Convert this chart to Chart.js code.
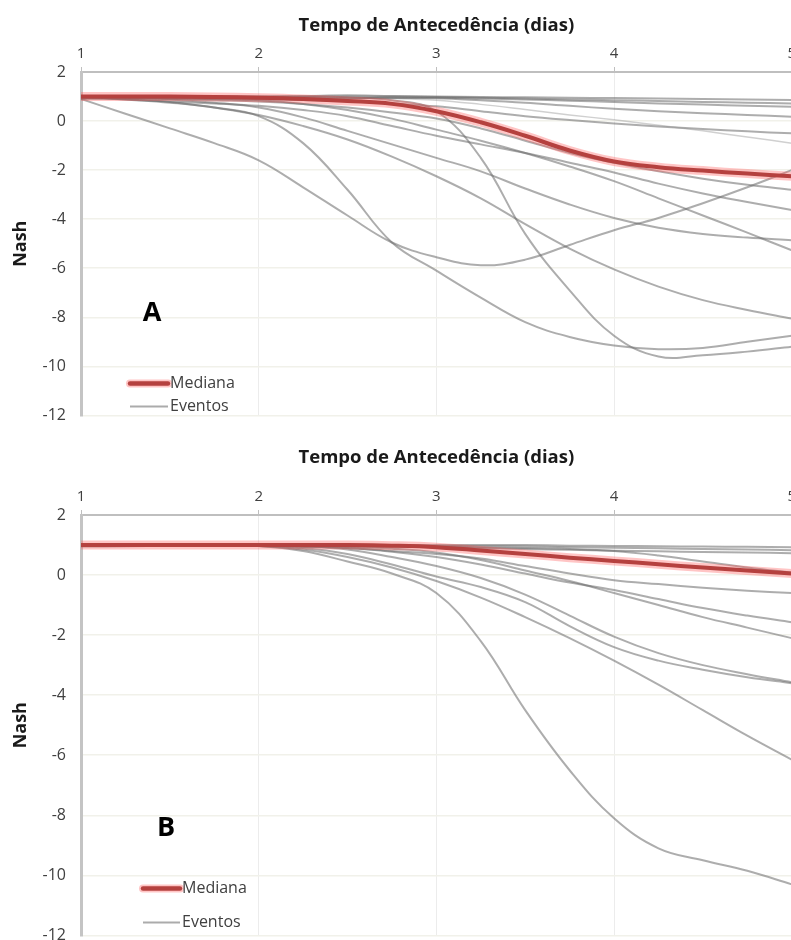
<!DOCTYPE html>
<html>
<head>
<meta charset="utf-8">
<script src="https://cdn.jsdelivr.net/npm/chart.js@4.4.0/dist/chart.umd.min.js"></script>
<style>
  html, body { margin: 0; padding: 0; background: #fff; overflow: hidden; width: 791px; height: 940px; }
  #wrapA { position: absolute; left: 0; top: 0; width: 800px; height: 440px; }
  #wrapB { position: absolute; left: 0; top: 430px; width: 800px; height: 530px; }
</style>
</head>
<body>
<div id="wrapA"><canvas id="chartA" width="800" height="440"></canvas></div>
<div id="wrapB"><canvas id="chartB" width="800" height="530"></canvas></div>
<script>
// lead time (days)
const dias = [1, 1.25, 1.5, 1.75, 2, 2.25, 2.5, 2.75, 3, 3.25, 3.5, 3.75, 4, 4.25, 4.5, 4.75, 5];
const yTicks = [2, 0, -2, -4, -6, -8, -10, -12];

// panel A
const medianaA = [1.0, 1.0, 1.0, 0.98, 0.95, 0.9, 0.82, 0.7, 0.4, -0.05, -0.6, -1.2, -1.65, -1.88, -2.02, -2.14, -2.25];
const evA1 = [1.0, 1.0, 1.0, 1.0, 1.0, 1.02, 1.05, 1.02, 1.0, 0.98, 0.97, 0.95, 0.94, 0.92, 0.9, 0.88, 0.86];
const evA2 = [0.95, 0.97, 0.98, 0.98, 0.97, 0.98, 1.0, 1.0, 0.98, 0.95, 0.92, 0.88, 0.85, 0.82, 0.78, 0.75, 0.72];
const evA3 = [0.9, 0.92, 0.93, 0.93, 0.92, 0.92, 0.93, 0.95, 0.95, 0.92, 0.88, 0.83, 0.78, 0.72, 0.67, 0.62, 0.58];
const evA4 = [1.0, 0.98, 0.97, 0.95, 0.93, 0.92, 0.93, 0.95, 0.93, 0.85, 0.75, 0.62, 0.5, 0.4, 0.32, 0.25, 0.18];
const evA5 = [1.0, 0.98, 0.97, 0.96, 0.95, 0.95, 0.95, 0.92, 0.85, 0.68, 0.47, 0.25, 0.05, -0.17, -0.4, -0.65, -0.9];
const evA6 = [0.95, 0.93, 0.92, 0.9, 0.88, 0.86, 0.82, 0.72, 0.6, 0.4, 0.2, 0.04, -0.1, -0.22, -0.32, -0.42, -0.5];
const evA7 = [1.0, 0.95, 0.9, 0.85, 0.8, 0.7, 0.55, 0.35, 0.1, -0.3, -0.8, -1.3, -1.7, -2.05, -2.35, -2.6, -2.8];
const evA8 = [0.95, 0.88, 0.8, 0.72, 0.62, 0.45, 0.2, -0.2, -0.6, -0.95, -1.3, -1.7, -2.1, -2.55, -2.95, -3.3, -3.63];
const evA9 = [1.0, 0.98, 0.95, 0.9, 0.85, 0.7, 0.45, 0.1, -0.35, -0.8, -1.3, -1.85, -2.45, -3.15, -3.85, -4.55, -5.27];
const evA10 = [1.0, 0.95, 0.88, 0.75, 0.55, 0.15, -0.4, -0.95, -1.5, -2.05, -2.75, -3.4, -3.95, -4.35, -4.6, -4.75, -4.86];
const evA11 = [1.0, 0.9, 0.78, 0.55, 0.25, -0.2, -0.75, -1.45, -2.25, -3.15, -4.2, -5.2, -6.05, -6.75, -7.3, -7.7, -8.05];
const evA12 = [0.9, 0.3, -0.3, -0.9, -1.6, -2.7, -3.85, -4.95, -5.55, -5.88, -5.65, -5.05, -4.45, -3.95, -3.35, -2.7, -2.0];
const evA13 = [1.0, 0.88, 0.75, 0.55, 0.2, -0.9, -2.8, -4.95, -6.1, -7.2, -8.2, -8.8, -9.15, -9.3, -9.25, -9.0, -8.75];
const evA14 = [1.0, 1.0, 1.0, 1.0, 1.0, 1.0, 0.97, 0.85, 0.4, -1.5, -4.6, -6.9, -8.75, -9.6, -9.55, -9.4, -9.2];

// panel B
const medianaB = [1.0, 1.0, 1.0, 1.0, 1.0, 1.0, 1.0, 0.98, 0.93, 0.82, 0.7, 0.58, 0.47, 0.36, 0.25, 0.15, 0.05];
const evB1 = [1.0, 1.0, 1.02, 1.03, 1.02, 1.0, 1.0, 1.0, 1.0, 1.0, 1.0, 0.98, 0.97, 0.96, 0.95, 0.94, 0.93];
const evB2 = [0.98, 0.98, 1.0, 1.0, 1.0, 1.0, 0.98, 0.97, 0.97, 0.96, 0.95, 0.93, 0.91, 0.89, 0.87, 0.85, 0.83];
const evB3 = [1.0, 1.0, 1.0, 1.0, 1.0, 0.98, 0.97, 0.95, 0.93, 0.9, 0.87, 0.84, 0.81, 0.79, 0.77, 0.75, 0.73];
const evB4 = [0.95, 0.96, 0.97, 0.97, 0.97, 0.97, 0.96, 0.95, 0.94, 0.92, 0.9, 0.87, 0.8, 0.65, 0.45, 0.25, 0.08];
const evB5 = [1.0, 1.0, 1.0, 1.0, 0.98, 0.95, 0.9, 0.8, 0.7, 0.55, 0.3, 0.05, -0.17, -0.3, -0.42, -0.52, -0.6];
const evB6 = [1.0, 1.0, 1.0, 1.0, 0.98, 0.95, 0.9, 0.78, 0.6, 0.35, 0.05, -0.25, -0.5, -0.8, -1.1, -1.35, -1.57];
const evB7 = [1.0, 1.0, 1.0, 1.0, 0.98, 0.97, 0.95, 0.88, 0.75, 0.5, 0.15, -0.2, -0.6, -1.0, -1.4, -1.75, -2.1];
const evB8 = [1.0, 1.0, 1.0, 1.0, 0.98, 0.95, 0.85, 0.6, 0.3, -0.1, -0.65, -1.35, -2.05, -2.6, -3.0, -3.3, -3.57];
const evB9 = [1.0, 1.0, 1.0, 1.0, 0.97, 0.9, 0.7, 0.35, -0.05, -0.4, -0.9, -1.7, -2.4, -2.85, -3.15, -3.4, -3.6];
const evB10 = [1.0, 1.0, 1.0, 1.0, 0.97, 0.85, 0.6, 0.25, -0.2, -0.75, -1.4, -2.1, -2.85, -3.65, -4.5, -5.35, -6.15];
const evB11 = [1.0, 1.0, 1.0, 1.0, 0.97, 0.8, 0.45, 0.05, -0.6, -2.2, -4.5, -6.5, -8.1, -9.1, -9.5, -9.85, -10.3];

const eventosA = [evA1, evA2, evA3, evA4, evA5, evA6, evA7, evA8, evA9, evA10, evA11, evA12, evA13, evA14];
const eventosB = [evB1, evB2, evB3, evB4, evB5, evB6, evB7, evB8, evB9, evB10, evB11];

const FONT = "'Open Sans', 'DejaVu Sans', sans-serif";
const GREY = 'rgba(105,105,105,0.55)';

function pts(vals) {
    return vals.map((v, i) => ({ x: dias[i], y: v }));
}

function buildDatasets(mediana, eventos, lightIdx) {
    const sets = [];
    sets.push({ label: 'Mediana', data: pts(mediana), borderColor: '#b5413f', borderWidth: 4 });
    sets.push({ label: 'halo', data: pts(mediana), borderColor: 'rgba(255,90,90,0.35)', borderWidth: 9 });
    eventos.forEach((ev, i) => {
        sets.push({
            label: 'Eventos',
            data: pts(ev),
            borderColor: i === lightIdx ? 'rgba(150,150,150,0.45)' : GREY,
            borderWidth: i === lightIdx ? 1.5 : 2
        });
    });
    return sets;
}

// legend box + panel letter drawn inside the plot area
function panelDecor(letter, opt) {
    return {
        id: 'decor' + letter,
        afterDraw(chart) {
            const ctx = chart.ctx;
            const a = chart.chartArea;
            const x0 = a.left + opt.legX;
            ctx.save();
            ctx.lineCap = 'round';
            ctx.strokeStyle = 'rgba(255,90,90,0.35)';
            ctx.lineWidth = 8;
            ctx.beginPath(); ctx.moveTo(x0, a.bottom - opt.medY); ctx.lineTo(x0 + opt.legW, a.bottom - opt.medY); ctx.stroke();
            ctx.strokeStyle = '#b5413f';
            ctx.lineWidth = 4.5;
            ctx.beginPath(); ctx.moveTo(x0, a.bottom - opt.medY); ctx.lineTo(x0 + opt.legW, a.bottom - opt.medY); ctx.stroke();
            ctx.lineCap = 'butt';
            ctx.strokeStyle = 'rgba(150,150,150,0.8)';
            ctx.lineWidth = 2;
            ctx.beginPath(); ctx.moveTo(x0, a.bottom - opt.evY); ctx.lineTo(x0 + opt.legW, a.bottom - opt.evY); ctx.stroke();
            ctx.fillStyle = '#404040';
            ctx.font = '16px ' + FONT;
            ctx.textBaseline = 'middle';
            ctx.textAlign = 'left';
            ctx.fillText('Mediana', x0 + opt.legW + 2, a.bottom - opt.medY);
            ctx.fillText('Eventos', x0 + opt.legW + 2, a.bottom - opt.evY);
            ctx.fillStyle = '#000';
            ctx.font = 'bold 27px ' + FONT;
            ctx.textAlign = 'center';
            ctx.fillText(letter, a.left + opt.letX, a.bottom - opt.letY);
            ctx.restore();
        }
    };
}

function makeChart(id, datasets, topH, titlePad, decor) {
    return new Chart(document.getElementById(id), {
        type: 'line',
        data: { datasets: datasets },
        options: {
            responsive: false,
            animation: false,
            events: [],
            layout: { padding: { left: 0, right: 7, top: 0, bottom: 5 } },
            elements: {
                point: { radius: 0 },
                line: { tension: 0.4, borderCapStyle: 'round', fill: false }
            },
            plugins: { legend: { display: false }, tooltip: { enabled: false } },
            scales: {
                x: {
                    type: 'linear',
                    position: 'top',
                    min: 1, max: 5,
                    afterFit(s) { s.height = topH; },
                    ticks: { stepSize: 1, color: '#404040', font: { family: FONT, size: 15 }, padding: 4 },
                    border: { display: true, color: '#bfbfbf', width: 2 },
                    grid: {
                        color: '#ececec', lineWidth: 1, borderDash: [4, 3],
                        tickColor: '#bfbfbf', tickLength: 5, tickBorderDash: []
                    },
                    title: {
                        display: true, text: 'Tempo de Antecedência (dias)', color: '#1a1a1a',
                        font: { family: FONT, size: 18.5, weight: 'bold' }, padding: { top: titlePad, bottom: 0 }
                    }
                },
                y: {
                    min: -12, max: 2,
                    afterFit(s) { s.width = 81; },
                    afterBuildTicks(s) { s.ticks = yTicks.map(v => ({ value: v })); },
                    ticks: { color: '#404040', font: { family: FONT, size: 16 }, padding: 15 },
                    border: { display: true, color: '#c4c4c4', width: 3 },
                    grid: { color: '#f1f1ea', lineWidth: 1.5, drawTicks: false },
                    title: {
                        display: true, text: 'Nash', color: '#1a1a1a',
                        font: { family: FONT, size: 18, weight: 'bold' }, padding: { top: 10, bottom: 0 }
                    }
                }
            }
        },
        plugins: [decor]
    });
}

makeChart('chartA', buildDatasets(medianaA, eventosA, 4), 72, 15,
    panelDecor('A', { legX: 49, legW: 38, medY: 32, evY: 9, letX: 71, letY: 102 }));
makeChart('chartB', buildDatasets(medianaB, eventosB, -1), 85, 17,
    panelDecor('B', { legX: 62, legW: 37, medY: 47, evY: 13, letX: 85, letY: 107 }));
</script>
</body>
</html>
